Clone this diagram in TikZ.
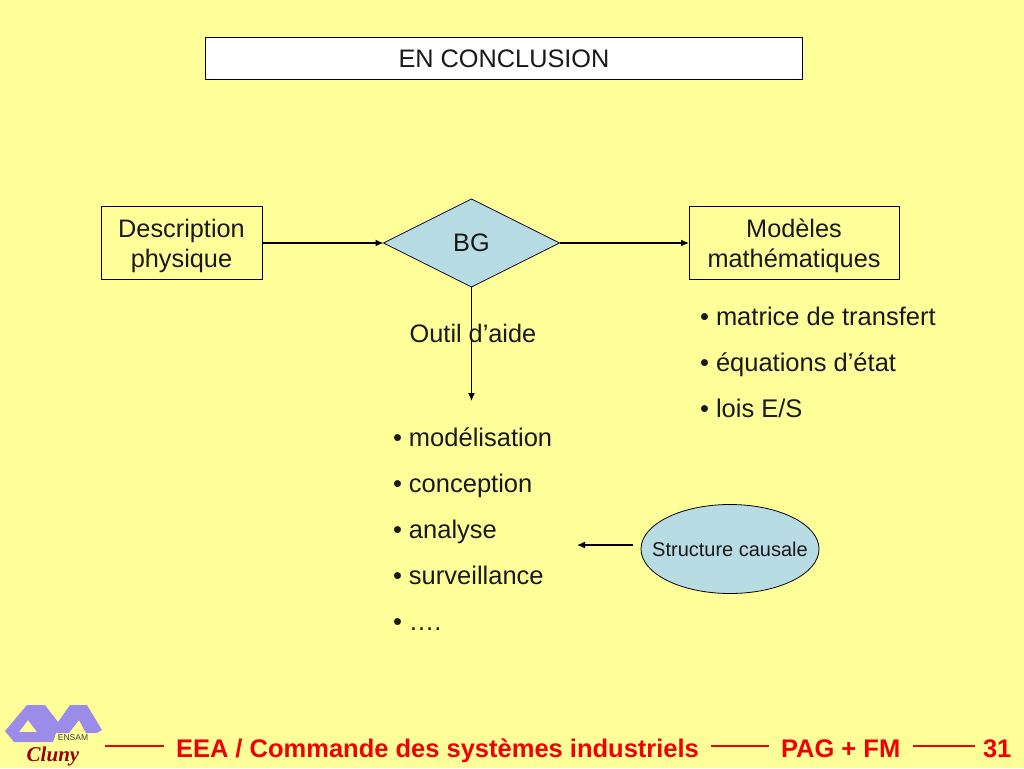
\documentclass[tikz,border=0pt]{standalone}
\usepackage{fontspec}
\setmainfont{Liberation Sans}
\newfontfamily\clunyfont{Liberation Serif}
\usetikzlibrary{shapes.geometric,arrows.meta}
\definecolor{paper}{HTML}{FFFF99}
\definecolor{shape}{HTML}{B8DCE4}
\definecolor{logo}{HTML}{9A8CE8}
\definecolor{foot}{HTML}{F00000}
\newcommand{\size}[2]{\fontsize{#1}{#2}\selectfont}

\begin{document}
\begin{tikzpicture}[x=1pt,y=-1pt]
        \tikzstyle{every node}=[inner sep=0pt,outer sep=0pt,text=black!90]
        \tikzstyle{box}=[rectangle,draw,line width=0.8pt,align=center,font=\size{25.3}{30}]
        \tikzstyle{twolines}=[box,text height=54pt,minimum width=161pt,minimum height=73pt]
        \tikzstyle{bullets}=[align=left,anchor=north west,font=\size{25.5}{46}]
        \tikzstyle{footer}=[font=\bfseries\size{25.5}{28},text=foot,anchor=base west]
        \tikzstyle{link}=[-{Latex[length=8pt,width=7pt]},line width=1.3pt]
        \tikzstyle{rule}=[foot,line width=2.3pt]
        \fill[paper] (0,0) rectangle (1024,768);
        % top and boxes
        \node[box,fill=white,minimum width=597pt,minimum height=42pt] (title) at (504,58.5) {EN CONCLUSION};
        \node[twolines] (descr) at (181.5,243) {Description\\physique};
        \node[twolines,minimum width=210pt] (models) at (794,243) {Modèles\\mathématiques};
        \node[diamond,draw,fill=shape,line width=0.8pt,minimum width=176pt,minimum height=88pt,font=\size{25.3}{30}] (bg) at (471.5,243) {BG};
        \node[ellipse,draw,fill=shape,line width=0.8pt,minimum width=178pt,minimum height=89pt,font=\size{20}{24}] (causal) at (730,549) {\makebox[0pt]{Structure causale}};
        \coordinate (toolend) at (471.5,401);
        \coordinate (causalstart) at (633,545);
        \coordinate (causalend) at (577,545);
        \draw[link] (descr) -- (bg);
        \draw[link] (bg) -- (models);
        \draw[link] (bg) -- (toolend);
        \draw[link] (causalstart) -- (causalend);
        % labels
        \node[font=\size{25.3}{30}] (tool) at (473,333) {Outil d’aide};
        \node[bullets] (props) at (700,307) {• matrice de transfert\\• équations d’état\\• lois E/S};
        \node[bullets] (uses) at (393,428) {• modélisation\\• conception\\• analyse\\• surveillance\\• ….};
        % footer
        \node[footer] (course) at (176,757) {EEA / Commande des systèmes industriels};
        \node[footer] (names) at (781,757) {PAG + FM};
        \node[footer] (page) at (983,757) {31};
        \draw[rule] (105,746) -- (164,746);
        \draw[rule] (711,746) -- (769,746);
        \draw[rule] (913,746) -- (975,746);
        % logo
        \fill[logo,even odd rule] (5,731) -- (27,705) -- (45,705) -- (58,722) -- (70,705) -- (87,705) -- (102,730) -- (97,733) -- (86,733) -- (79,720) -- (69,733) -- (56,733) -- (53,742) -- (14,742) -- cycle
                (19,732) -- (37,732) -- (28,720) -- cycle;
        \node[font=\size{8.5}{9},text=black!75] (ensam) at (73,738) {ENSAM};
        \node[font=\clunyfont\itshape\bfseries\size{21}{24},text=red!60!black] (cluny) at (53,756) {Cluny};
\end{tikzpicture}
\end{document}
